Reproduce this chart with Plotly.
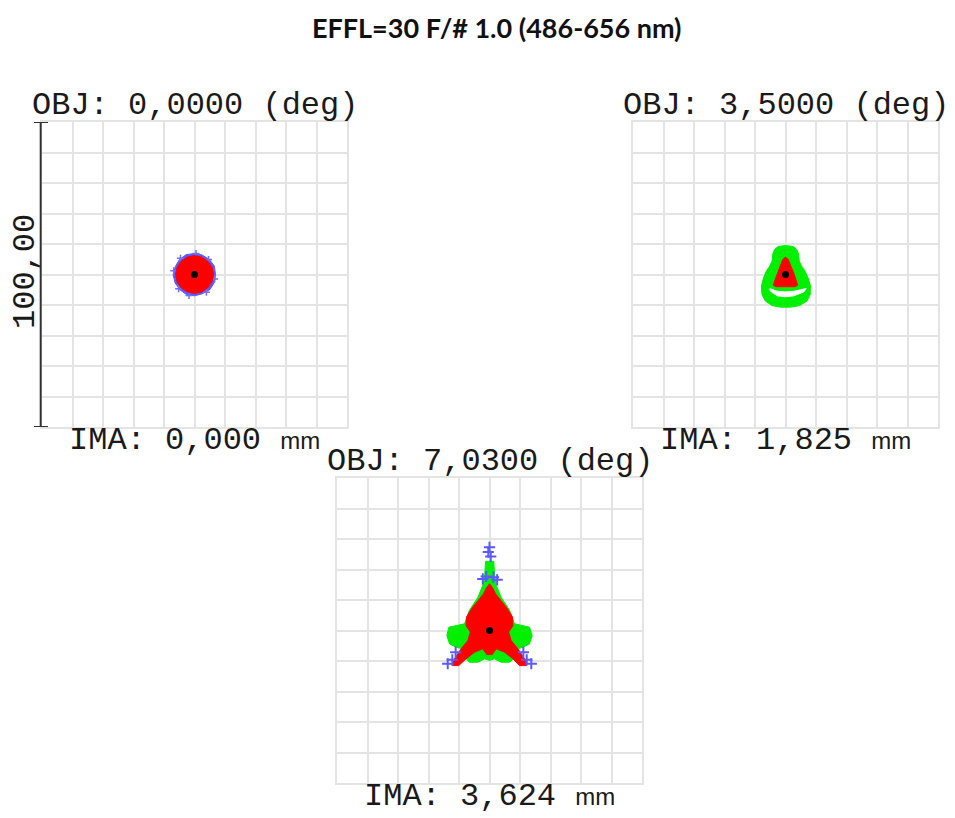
import plotly.graph_objects as go

# page is shown with an 8 px body margin, so the figure is offset by 8 px
OFF = 8
W, H = 955 - OFF, 818 - OFF

# ---------------- data (micrometres, chief ray at 0,0) ----------------
title_text = "EFFL=30 F/# 1.0 (486-656 nm)"
obj_labels = ["OBJ: 0,0000 (deg)", "OBJ: 3,5000 (deg)", "OBJ: 7,0300 (deg)"]
ima_values = ["0,000", "1,825", "3,624"]
scale_label = "100,00"
scale_um = 100.0

# Field 1 (0 deg): blue (486 nm) halo and red (656 nm) disk outlines
f1_blue_x = [6.9, 6.5, 4.9, 2.5, 0.0, -2.8, -5.0, -6.3, -7.0, -6.4, -4.8, -2.7, 0.0, 2.6, 5.1, 6.5]
f1_blue_y = [0.0, 2.8, 4.9, 6.4, 6.9, 6.5, 4.8, 2.6, 0.0, -2.7, -5.0, -6.5, -7.0, -6.3, -4.9, -2.6]
f1_red_x = [6.2, 5.7, 4.3, 2.3, 0.0, -2.4, -4.4, -5.7, -6.2, -5.7, -4.3, -2.3, 0.0, 2.4, 4.4, 5.7]
f1_red_y = [0.0, 2.4, 4.4, 5.7, 6.2, 5.7, 4.3, 2.3, 0.0, -2.4, -4.4, -5.7, -6.2, -5.7, -4.3, -2.3]
f1_blue_px = [0.5, -4.6, -6.8, -5.2, 3.9, 6.6, 4.6, -1.8]
f1_blue_py = [6.9, 5.3, 1.2, -4.7, -5.8, -1.5, 4.9, -6.9]

# Field 2 (3.5 deg): green ring (546 nm), inner gap, red core
f2_green_x = [0.0, -2.4, -3.6, -4.2, -4.4, -5.2, -6.3, -7.2, -7.9, -7.7, -6.6, -4.4, -1.6, 0.0,
              1.6, 4.6, 7.0, 8.1, 8.2, 7.4, 6.4, 5.3, 4.5, 4.3, 3.7, 2.5]
f2_green_y = [9.5, 9.2, 8.2, 6.6, 4.4, 2.7, 1.1, -1.1, -3.8, -6.6, -8.7, -10.2, -10.7, -10.8,
              -10.7, -10.2, -8.7, -6.6, -3.8, -1.1, 1.1, 2.7, 4.4, 6.6, 8.2, 9.2]
f2_gap_x = [-5.2, -2.7, 0.0, 2.7, 6.8, 6.0, 2.7, 0.0, -2.7, -4.9]
f2_gap_y = [-4.6, -5.5, -5.7, -5.5, -4.6, -5.7, -7.0, -7.3, -7.0, -5.5]
f2_red_x = [0.0, -0.9, -1.6, -2.7, -3.6, -4.0, -3.1, 0.0, 3.1, 4.0, 3.6, 2.7, 1.6, 0.9]
f2_red_y = [5.7, 4.9, 3.1, 0.5, -2.2, -3.5, -4.0, -4.0, -4.0, -3.5, -2.2, 0.5, 3.1, 4.9]

# Field 3 (7.03 deg): green body, red body, scattered blue rays
f3_green_x = [-1.3, 1.4, 1.7, 2.2, 3.8, 6.6, 8.2, 10.4, 13.1, 14.0, 13.1, 10.9, 9.0, 8.5, 6.6, 3.8,
              1.6, 0.0, -1.6, -3.8, -6.6, -8.2, -8.7, -10.9, -13.1, -14.0, -13.3, -10.4, -8.2,
              -6.6, -3.8, -2.2, -1.6]
f3_green_y = [22.7, 22.7, 17.5, 14.8, 10.9, 6.6, 2.2, 1.7, 1.1, -1.6, -4.4, -5.5, -6.0, -8.7, -10.4,
              -10.4, -9.3, -9.8, -9.3, -10.4, -10.4, -8.7, -6.0, -5.5, -4.4, -1.6, 1.1, 1.7, 2.2,
              6.6, 10.9, 14.8, 17.5]
f3_red_x = [0.0, 1.0, 2.0, 3.6, 5.6, 7.5, 7.7, 6.3, 7.1, 9.3, 11.5, 12.2, 9.8, 7.7, 4.9, 2.2, 0.9,
            -0.9, -2.2, -4.9, -7.7, -10.1, -12.2, -11.5, -9.3, -7.1, -6.3, -7.7, -7.5, -5.6, -3.6,
            -2.0, -1.0]
f3_red_y = [15.3, 14.0, 12.0, 10.0, 7.5, 4.5, 1.6, -0.5, -3.3, -6.0, -9.3, -11.5, -11.5, -9.3, -7.1,
            -6.0, -7.9, -7.9, -6.0, -7.1, -9.3, -11.5, -11.5, -9.3, -6.0, -3.3, -0.5, 1.6, 4.5,
            7.5, 10.0, 12.0, 14.0]
f3_blue_x = [0.0, -0.4, 0.4, -2.2, -1.1, 1.3, 2.5, -13.7, -12.2, -11.1, 13.7, 12.2, 11.1]
f3_blue_y = [27.3, 25.7, 24.3, 16.9, 17.7, 17.5, 16.6, -10.9, -9.6, -7.1, -10.9, -9.6, -7.1]

# ---------------- layout geometry (page pixels) ----------------
panels_px = [(42, 122, 347, 427), (633, 122, 938, 427), (337, 478, 642, 783)]

def px_x(x):
    return (x - OFF) / W

def px_y(y):
    return 1 - (y - OFF) / H

BLUE = "rgb(70,70,255)"
RED = "rgb(255,0,0)"
GREEN = "rgb(0,240,0)"
GRID = "#e4e4e4"
MONO = "Liberation Mono"

fig = go.Figure()

def ax(k):
    return (f"x{k}" if k > 1 else "x"), (f"y{k}" if k > 1 else "y")

def poly(x, y, color, k):
    xa, ya = ax(k)
    fig.add_trace(go.Scatter(
        x=x + [x[0]], y=y + [y[0]], mode="lines", fill="toself",
        fillcolor=color, line=dict(color=color, width=1),
        xaxis=xa, yaxis=ya, hoverinfo="skip", showlegend=False))

def crosses(x, y, k, size=9, width=2, color=BLUE):
    xa, ya = ax(k)
    fig.add_trace(go.Scatter(
        x=x, y=y, mode="markers",
        marker=dict(symbol="cross-thin", size=size, line=dict(color=color, width=width)),
        xaxis=xa, yaxis=ya, hoverinfo="skip", showlegend=False))

def dot(k):
    xa, ya = ax(k)
    fig.add_trace(go.Scatter(
        x=[0], y=[0], mode="markers", marker=dict(color="black", size=7),
        xaxis=xa, yaxis=ya, hoverinfo="skip", showlegend=False))

# Field 1
poly(f1_blue_x, f1_blue_y, "rgb(90,90,255)", 1)
crosses(f1_blue_px, f1_blue_py, 1, size=5, width=1.5, color="rgb(110,110,255)")
poly(f1_red_x, f1_red_y, RED, 1)
dot(1)
# Field 2
poly(f2_green_x, f2_green_y, GREEN, 2)
poly(f2_gap_x, f2_gap_y, "white", 2)
poly(f2_red_x, f2_red_y, RED, 2)
dot(2)
# Field 3
poly(f3_green_x, f3_green_y, GREEN, 3)
poly(f3_red_x, f3_red_y, RED, 3)
crosses(f3_blue_x, f3_blue_y, 3, size=8, width=2, color="rgb(90,90,255)")
dot(3)

axis_common = dict(range=[-50, 50], dtick=10, tick0=0, showticklabels=False, ticks="",
                   showgrid=True, gridcolor=GRID, gridwidth=2, zeroline=False,
                   showline=True, linecolor=GRID, linewidth=2, mirror=True, fixedrange=True)

layout = dict(width=W, height=H, margin=dict(l=0, r=0, t=0, b=0),
              paper_bgcolor="white", plot_bgcolor="white", showlegend=False)
for i, (x0, y0, x1, y1) in enumerate(panels_px, start=1):
    sx = "" if i == 1 else str(i)
    layout[f"xaxis{sx}"] = dict(axis_common, domain=[px_x(x0), px_x(x1)], anchor=f"y{sx}")
    layout[f"yaxis{sx}"] = dict(axis_common, domain=[px_y(y1), px_y(y0)], anchor=f"x{sx}")
fig.update_layout(**layout)

annotations = []
annotations.append(dict(text=f"<b>{title_text}</b>", x=px_x(497), y=px_y(9), xref="paper", yref="paper",
                        showarrow=False, xanchor="center", yanchor="top",
                        font=dict(family="Lato", size=27, color="#111")))
for (x0, y0, x1, y1), ob, im in zip(panels_px, obj_labels, ima_values):
    cx = (x0 + x1) / 2
    annotations.append(dict(text=ob, x=px_x(cx), y=px_y(y0 - 17), xref="paper", yref="paper",
                            showarrow=False, xanchor="center", yanchor="middle",
                            font=dict(family=MONO, size=32, color="#1a1a1a")))
    annotations.append(dict(
        text=f"IMA: {im} <span style='font-family:Liberation Sans;font-size:24px'>mm</span>",
        x=px_x(cx), y=px_y(y1 + 13), xref="paper", yref="paper",
        showarrow=False, xanchor="center", yanchor="middle",
        font=dict(family=MONO, size=32, color="#1a1a1a")))
annotations.append(dict(text=scale_label, x=px_x(25), y=px_y(272), xref="paper", yref="paper",
                        showarrow=False, textangle=-90, xanchor="center", yanchor="middle",
                        font=dict(family=MONO, size=32, color="#1a1a1a")))
fig.update_layout(annotations=annotations)

# scale bar of 100 um along the first panel's y axis
bar_x = px_x(40.7)
cap_l, cap_r = px_x(34), px_x(48)
half = scale_um / 2
shapes = [
    dict(type="line", xref="paper", yref="y", x0=bar_x, x1=bar_x, y0=-half, y1=half,
         line=dict(color="#333", width=2)),
    dict(type="line", xref="paper", yref="y", x0=cap_l, x1=cap_r, y0=half, y1=half,
         line=dict(color="#333", width=2)),
    dict(type="line", xref="paper", yref="y", x0=cap_l, x1=cap_r, y0=-half, y1=-half,
         line=dict(color="#333", width=2)),
]
fig.update_layout(shapes=shapes)

fig.write_html("out.html")
